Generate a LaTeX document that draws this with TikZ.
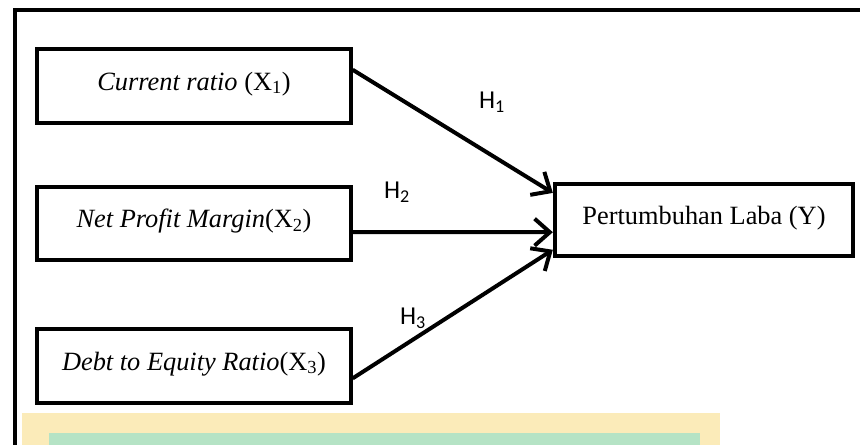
\documentclass[tikz,border=0pt]{standalone}
\usepackage{fontspec}
\setmainfont{Liberation Serif}
\newfontfamily\hfont{Carlito}
\usetikzlibrary{calc, arrows.meta}

\definecolor{bandyellow}{RGB}{251,235,185}
\definecolor{bandgreen}{RGB}{181,227,197}

\tikzset{
	varbox/.style={draw, rectangle, line width=3.4pt, font=\fontsize{22.5}{26}\selectfont,
		text height=16pt, text depth=9pt,
		minimum width=9.4cm, minimum height=2.2cm, inner sep=0pt},
	hyp/.style={line width=3.4pt, -{Straight Barb[length=13pt, width=23pt, line width=3.4pt]}},
	hlabel/.style={font=\hfont\fontsize{22}{26}\selectfont, inner sep=0pt}
}

\begin{document}
\begin{tikzpicture}[x=0.03cm, y=-0.03cm]
	\useasboundingbox (0,0) rectangle (860,445);

	% band at the foot of the page
	\fill[bandyellow] (22,413) rectangle (720,445);
	\fill[bandgreen] (49,433) rectangle (700,445);

	% frame
	\draw[line width=4.2pt] (15,445) -- (15,10) -- (860,10);

	\node[varbox] (currentratio) at (194,86)
		{\textit{Current ratio} (X\textsubscript{1})};
	\node[varbox] (netprofit)    at (194,223.5)
		{\textit{Net Profit Margin}(X\textsubscript{2})};
	\node[varbox] (debtequity)   at (194,366)
		{\textit{Debt to Equity Ratio}(X\textsubscript{3})};
	\node[varbox, minimum width=8.95cm, minimum height=2.17cm] (laba) at (704,220)
		{Pertumbuhan Laba (Y)};

	\draw[hyp] ($(currentratio.north east)!0.29!(currentratio.south east)$)
		-- ($(laba.north west)!0.145!(laba.south west)$);
	\draw[hyp] ($(netprofit.north east)!0.61!(netprofit.south east)$)
		-- ($(laba.north west)!0.66!(laba.south west)$);
	\draw[hyp] ($(debtequity.north east)!0.66!(debtequity.south east)$)
		-- ($(laba.north west)!0.89!(laba.south west)$);

	\node[hlabel] (h1) at (492,102) {H\textsubscript{1}};
	\node[hlabel] (h2) at (397,192) {H\textsubscript{2}};
	\node[hlabel] (h3) at (413,318) {H\textsubscript{3}};
\end{tikzpicture}
\end{document}
